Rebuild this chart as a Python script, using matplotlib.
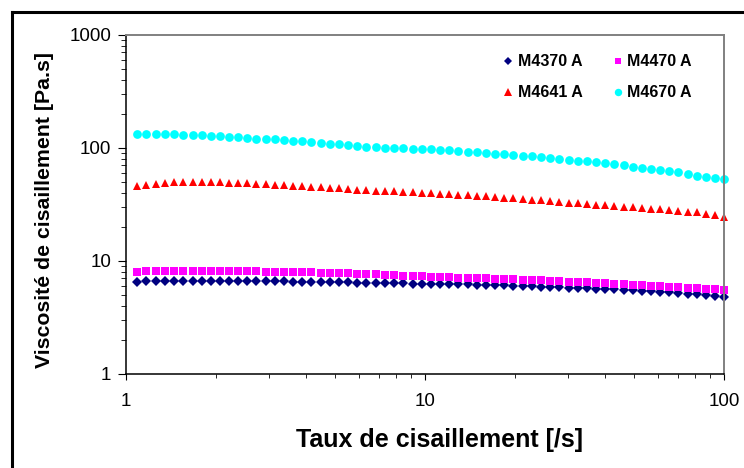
# Viscosite de cisaillement en fonction du taux de cisaillement

import matplotlib.pyplot as plt
from matplotlib.lines import Line2D

plt.rcParams['font.family'] = ['Liberation Sans', 'DejaVu Sans']

# taux de cisaillement [/s]
taux = [1.09, 1.17, 1.26, 1.35, 1.45, 1.55, 1.67, 1.79, 1.92, 2.06,
        2.21, 2.37, 2.54, 2.73, 2.93, 3.15, 3.38, 3.62, 3.89, 4.17,
        4.48, 4.81, 5.16, 5.53, 5.94, 6.37, 6.84, 7.34, 7.88, 8.46,
        9.08, 9.74, 10.5, 11.2, 12.0, 12.9, 13.9, 14.9, 16.0, 17.1,
        18.4, 19.7, 21.2, 22.7, 24.4, 26.2, 28.1, 30.2, 32.4, 34.7,
        37.3, 40.0, 42.9, 46.1, 49.5, 53.1, 57.0, 61.1, 65.6, 70.4,
        75.6, 81.1, 87.0, 93.4, 100]

# viscosites [Pa.s]
m4370 = [6.56, 6.68, 6.7, 6.7, 6.7, 6.7, 6.7, 6.7, 6.7, 6.69,
         6.68, 6.67, 6.66, 6.65, 6.64, 6.62, 6.6, 6.58, 6.56, 6.54,
         6.52, 6.5, 6.47, 6.45, 6.43, 6.41, 6.39, 6.37, 6.35, 6.33,
         6.31, 6.3, 6.3, 6.28, 6.25, 6.23, 6.21, 6.18, 6.15, 6.12,
         6.09, 6.05, 6.01, 5.97, 5.93, 5.89, 5.85, 5.81, 5.77, 5.73,
         5.69, 5.65, 5.61, 5.56, 5.5, 5.45, 5.4, 5.34, 5.28, 5.21,
         5.14, 5.08, 5.02, 4.92, 4.8]
m4470 = [8.0, 8.15, 8.2, 8.2, 8.2, 8.2, 8.2, 8.2, 8.18, 8.16,
         8.14, 8.12, 8.1, 8.08, 8.06, 8.04, 8.02, 8.0, 7.97, 7.94,
         7.9, 7.86, 7.82, 7.78, 7.74, 7.7, 7.65, 7.58, 7.5, 7.42,
         7.35, 7.3, 7.24, 7.2, 7.16, 7.12, 7.08, 7.04, 7.0, 6.95,
         6.9, 6.86, 6.82, 6.77, 6.72, 6.67, 6.62, 6.57, 6.52, 6.47,
         6.41, 6.35, 6.29, 6.23, 6.17, 6.11, 6.05, 5.99, 5.93, 5.87,
         5.81, 5.75, 5.69, 5.63, 5.57]
m4641 = [46, 47, 48, 48.8, 49.5, 49.9, 50, 50, 49.8, 49.5,
         49.1, 48.8, 48.5, 48.1, 47.7, 47.2, 46.8, 46.3, 45.8, 45.3,
         44.9, 44.4, 43.8, 43.3, 42.9, 42.4, 42, 41.6, 41.2, 40.9,
         40.5, 40.1, 39.8, 39.3, 38.9, 38.5, 38, 37.6, 37.2, 36.7,
         36.2, 35.8, 35.3, 34.8, 34.3, 33.9, 33.4, 32.9, 32.5, 32,
         31.6, 31.1, 30.7, 30.3, 29.8, 29.4, 29, 28.7, 28.3, 27.9,
         27.4, 26.9, 26.2, 25.4, 24.4]
m4670 = [133, 133, 133, 133, 132, 131, 130, 129, 128, 127,
         126, 124, 122.5, 121, 120, 119, 117.6, 116, 114.6, 112.5,
         110.7, 109.5, 108, 106, 104, 102.5, 101.4, 100.5, 100, 99,
         98.5, 98, 97.3, 96.5, 95.3, 94, 92.7, 91.5, 90.4, 89,
         88, 86.8, 85.5, 84.5, 83.2, 82, 80.4, 79, 77.2, 76,
         74.7, 73, 71.6, 70, 68.3, 67, 65.6, 64, 62.6, 61,
         58.9, 57, 55.3, 54, 52.8]

noms = ["M4370 A", "M4470 A", "M4641 A", "M4670 A"]
xticks = [1, 10, 100]
xticklabels = ["1", "10", "100"]
yticks = [1, 10, 100, 1000]
yticklabels = ["1", "10", "100", "1000"]

fig = plt.figure(figsize=(7.44, 4.68), dpi=100)
ax = fig.add_axes([0.1694, 0.2009, 0.8038, 0.7244])

series = [m4370, m4470, m4641, m4670]
styles = [("D", "#000080", 5), ("s", "#FF00FF", 5.5), ("^", "#FF0000", 6.3), ("o", "#00FFFF", 6.3)]
lignes = []
for vals, nom, (mk, c, ms) in zip(series, noms, styles):
    l, = ax.plot(taux, vals, linestyle="none", marker=mk, color=c, markersize=ms,
                 markeredgewidth=0, label=nom, clip_on=False)
    lignes.append(l)

ax.set_xscale("log")
ax.set_yscale("log")
ax.set_xlim(1, 100)
ax.set_ylim(1, 1000)
ax.set_xticks(xticks)
ax.set_xticklabels(xticklabels)
ax.set_yticks(yticks)
ax.set_yticklabels(yticklabels)
ax.tick_params(axis="both", which="both", direction="out", labelsize=13.5, color="black")
ax.tick_params(axis="x", which="major", length=4, pad=10)
ax.tick_params(axis="x", which="minor", length=3)
ax.tick_params(axis="y", which="major", length=5.5, pad=5)
ax.tick_params(axis="y", which="minor", length=3.5)

for s in ["left", "bottom"]:
    ax.spines[s].set_color("black")
    ax.spines[s].set_linewidth(1.1)
for s in ["top", "right"]:
    ax.spines[s].set_color("#808080")
    ax.spines[s].set_linewidth(1.4)

ax.set_xlabel("Taux de cisaillement [/s]", fontsize=18, fontweight="bold")
ax.set_ylabel("Viscosité de cisaillement [Pa.s]", fontsize=15.3, fontweight="bold")
ax.xaxis.set_label_coords(0.525, -0.158)
ax.yaxis.set_label_coords(-0.12, 0.484)

# legende en deux lignes: M4370/M4470 puis M4641/M4670
ordre = [0, 2, 1, 3]
leg = ax.legend([lignes[i] for i in ordre], [noms[i] for i in ordre], ncol=2,
                loc="upper left", bbox_to_anchor=(0.607, 0.985), frameon=False,
                prop={"size": 11.5, "weight": "bold"}, handlelength=0.6,
                handletextpad=0.3, columnspacing=1.9, labelspacing=1.0, markerscale=0.85)

# cadre exterieur
fig.add_artist(Line2D([11.5 / 744, 11.5 / 744], [0, 1 - 11.5 / 468], color="black", linewidth=2.2))
fig.add_artist(Line2D([11.5 / 744, 1], [1 - 11.5 / 468, 1 - 11.5 / 468], color="black", linewidth=2.2))

plt.savefig("out.png", dpi=100)
